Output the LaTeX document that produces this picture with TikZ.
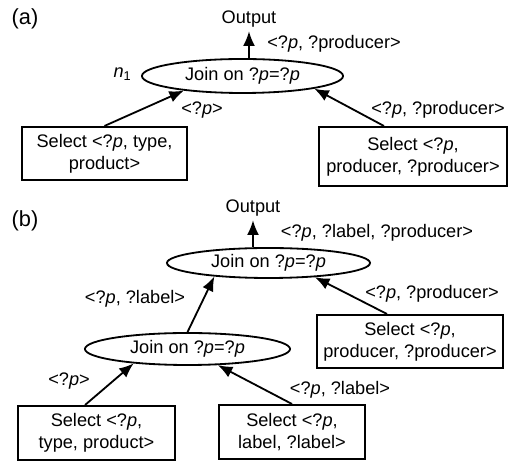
\documentclass[tikz,border=0pt]{standalone}
\usepackage{fontspec}
\setmainfont{Liberation Sans}
\usetikzlibrary{arrows.meta, shapes.geometric}
\tikzset{>={Latex[length=8pt,width=6.5pt]},
  selbox/.style={draw, line width=1.1pt, align=center, inner sep=2pt},
  joinop/.style={draw, ellipse, line width=1pt, inner sep=0pt},
  flow/.style={->, line width=1pt},
  lbl/.style={inner sep=0pt}}

\begin{document}
\begin{tikzpicture}[x=0.55pt, y=-0.55pt]
    \useasboundingbox (0,0) rectangle (508,461);
    % (a) one join
    \node[lbl, font=\large] (tagA) at (25,19) {(a)};
    \node[lbl] (outA) at (249,19) {Output};
    \node[joinop, minimum width=110.6pt, minimum height=18.7pt] (joinA) at (242.5,76) {Join on ?\textit{p}=?\textit{p}};
    \node[lbl, anchor=east] (nA) at (132,74) {\textit{n}\textsubscript{1}};
    \node[selbox, minimum width=90.75pt, minimum height=29.2pt] (selA1) at (104.5,153.5) {Select <?\textit{p}, type,\\product>};
    \node[selbox, minimum width=103.4pt, minimum height=32.5pt] (selA2) at (413,156.5) {Select <?\textit{p},\\producer, ?producer>};
    \draw[flow] (joinA.north -| outA.south) -- ([yshift=-2pt]outA.south);
    \draw[flow] (selA1.north) -- (joinA.194);
    \draw[flow] ([xshift=-16pt]selA2.north) -- (joinA.350);
    \node[lbl] (vA0) at (334,44) {<?\textit{p}, ?producer>};
    \node[lbl] (vA1) at (202,110) {<?\textit{p}>};
    \node[lbl] (vA2) at (438,110) {<?\textit{p}, ?producer>};
    % (b) two joins
    \node[lbl, font=\large] (tagB) at (25,221) {(b)};
    \node[lbl] (outB) at (253,208) {Output};
    \node[joinop, minimum width=111.7pt, minimum height=16.5pt] (joinB1) at (268.5,263) {Join on ?\textit{p}=?\textit{p}};
    \node[joinop, minimum width=112.8pt, minimum height=17.6pt] (joinB2) at (187.5,349) {Join on ?\textit{p}=?\textit{p}};
    \node[selbox, minimum width=102.3pt, minimum height=29.2pt] (selB3) at (410,341.5) {Select <?\textit{p},\\producer, ?producer>};
    \node[selbox, minimum width=86.4pt, minimum height=29.7pt] (selB1) at (96.5,433) {Select <?\textit{p},\\type, product>};
    \node[selbox, minimum width=80.3pt, minimum height=29.7pt] (selB2) at (292,432) {Select <?\textit{p},\\label, ?label>};
    \draw[flow] (joinB1.north -| outB.south) -- ([yshift=-2pt]outB.south);
    \draw[flow] (joinB2.north) -- (joinB1.194);
    \draw[flow] ([xshift=-12.7pt]selB3.north) -- (joinB1.343);
    \draw[flow] ([xshift=-6.3pt]selB1.north) -- (joinB2.195);
    \draw[flow] (selB2.north) -- (joinB2.332);
    \node[lbl] (vB0) at (377,233) {<?\textit{p}, ?label, ?producer>};
    \node[lbl] (vB1) at (135,299) {<?\textit{p}, ?label>};
    \node[lbl] (vB2) at (432,294) {<?\textit{p}, ?producer>};
    \node[lbl] (vB3) at (69,381) {<?\textit{p}>};
    \node[lbl] (vB4) at (340,390) {<?\textit{p}, ?label>};
\end{tikzpicture}
\end{document}
